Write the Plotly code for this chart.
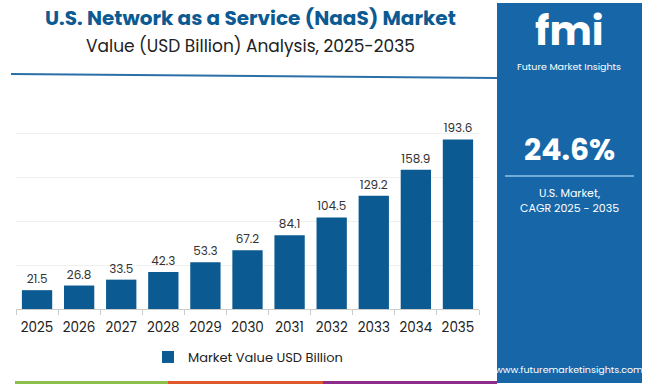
import plotly.graph_objects as go

years = ["2025", "2026", "2027", "2028", "2029", "2030", "2031", "2032", "2033", "2034", "2035"]
values = [21.5, 26.8, 33.5, 42.3, 53.3, 67.2, 84.1, 104.5, 129.2, 158.9, 193.6]
series_name = "Market Value USD Billion"
title = "U.S. Network as a Service (NaaS) Market"
subtitle = "Value (USD Billion) Analysis, 2025-2035"
cagr = "24.6%"

W, H = 650, 386
BAR = "#0b5a92"
PANEL = "#1767a8"
FONT = "Poppins, Inter, sans-serif"

def px(x):
    return x / W

def py(y):
    return (H - y) / H

fig = go.Figure()
fig.add_trace(go.Bar(
    x=years, y=values, name=series_name,
    marker=dict(color=BAR, line=dict(width=0)),
    text=[f"{v:.1f}" for v in values], textposition="outside",
    textfont=dict(size=12, color="#333333", family=FONT),
    cliponaxis=False, showlegend=True,
))

shapes = [
    dict(type="line", xref="paper", yref="paper", x0=px(11), x1=px(497), y0=py(74), y1=py(78),
         line=dict(color="#2a6fa8", width=2)),
    dict(type="rect", xref="paper", yref="paper", x0=px(497), x1=px(642), y0=py(383), y1=py(3),
         fillcolor=PANEL, line=dict(width=0), layer="below"),
    dict(type="line", xref="paper", yref="paper", x0=px(505), x1=px(634), y0=py(176), y1=py(176),
         line=dict(color="#8cc3ea", width=1.5)),
    dict(type="rect", xref="paper", yref="paper", x0=px(15), x1=px(168), y0=py(384), y1=py(381),
         fillcolor="#8cc04b", line=dict(width=0)),
    dict(type="rect", xref="paper", yref="paper", x0=px(168), x1=px(323), y0=py(384), y1=py(381),
         fillcolor="#e0592a", line=dict(width=0)),
    dict(type="rect", xref="paper", yref="paper", x0=px(323), x1=px(497), y0=py(384), y1=py(381),
         fillcolor="#8e2c8c", line=dict(width=0)),
]

def ann(text, x, y, size, color="white", bold=False):
    return dict(text=f"<b>{text}</b>" if bold else text, xref="paper", yref="paper",
                x=px(x), y=py(y), xanchor="center", yanchor="middle", showarrow=False,
                font=dict(size=size, color=color, family=FONT))

annotations = [
    ann(title, 250, 18, 20, color=BAR, bold=True),
    ann(subtitle, 250, 46, 17, color="#222222"),
    ann("fmi", 569, 31, 40, bold=True),
    ann("Future Market Insights", 569, 66, 9.5),
    ann(cagr, 569, 149, 30, bold=True),
    ann("U.S. Market,", 569, 193, 11),
    ann("CAGR 2025 - 2035", 569, 208, 11),
    ann("www.futuremarketinsights.com", 569, 369, 9.5),
]

fig.update_layout(
    width=W, height=H, margin=dict(l=0, r=0, t=0, b=0, autoexpand=False),
    paper_bgcolor="white", plot_bgcolor="white",
    font=dict(family=FONT, color="#222222"),
    bargap=0.28,
    shapes=shapes, annotations=annotations,
    legend=dict(orientation="h", x=px(248), y=py(357), xanchor="center", yanchor="middle",
                itemwidth=30,
                font=dict(size=13, color="#222222", family=FONT), bgcolor="rgba(0,0,0,0)"),
    xaxis=dict(domain=[px(16), px(479)], type="category", showline=True, linecolor="#cccccc",
               ticks="outside", tickson="boundaries", ticklen=5, tickcolor="#cccccc",
               tickangle=0, automargin=False, ticklabelstandoff=6,
               tickfont=dict(size=13.5, color="#222222", family=FONT), showgrid=False),
    yaxis=dict(domain=[py(309), py(90)], range=[0, 250], dtick=50, showticklabels=False,
               automargin=False, gridcolor="#efefef", zeroline=False, showline=False),
)

fig.write_html("out.html", config={"displayModeBar": False},
               post_script="document.body.style.margin='0';document.body.style.overflow='hidden';")
